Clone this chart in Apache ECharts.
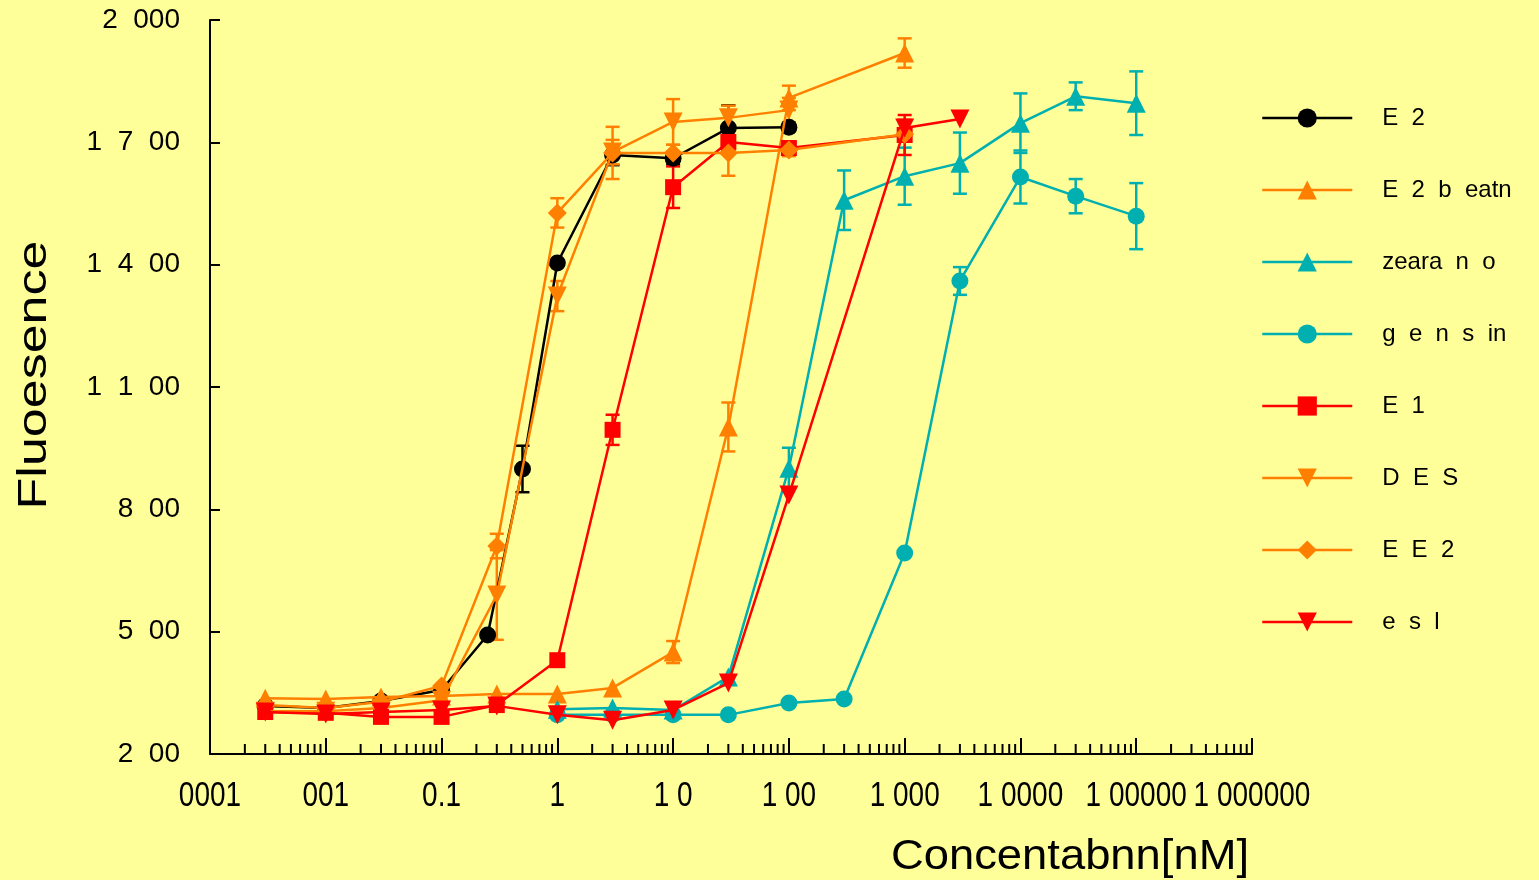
<!DOCTYPE html>
<html><head><meta charset="utf-8">
<script src="https://cdn.jsdelivr.net/npm/echarts@6/dist/echarts.min.js"></script>
<style>html,body{margin:0;padding:0;background:#FFFF99}#c{width:1539px;height:880px}</style>
</head><body><div id="c"></div>
<script>
// ---- tick labels ----
const xTickValues = [0.001, 0.01, 0.1, 1, 10, 100, 1000, 10000, 100000, 1000000];
const xTickLabels = ['0001', '001', '0.1', '1', '1 0', '1 00', '1 000', '1 0000', '1 00000', '1 000000'];
const yTickLabels = ['2  00', '5  00', '8  00', '1  1  00', '1  4  00', '1  7  00', '2  000'];
const legendNames = ['E  2', 'E  2  b  eatn', 'zeara  n  o', 'g  e  n  s  in', 'E  1', 'D  E  S', 'E  E  2', 'e  s  l'];
const yTitle = 'Fluoesence';
const xTitle = 'Concentabnn[nM]';

// ---- data (concentration nM, fluorescence, error) ----
const e2X   = [0.003, 0.01, 0.03, 0.1, 0.25, 0.5, 1, 3, 10, 30, 100];
const e2Y   = [318, 313, 330, 357, 492, 899, 1404, 1669, 1661, 1735, 1737];
const e2Err = [0, 0, 0, 0, 0, 57, 0, 25, 15, 56, 10];

const e2bX   = [0.003, 0.01, 0.03, 0.1, 0.3, 1, 3, 10, 30, 100, 1000];
const e2bY   = [337, 335, 340, 342, 347, 347, 362, 450, 1002, 1809, 1919];
const e2bErr = [0, 0, 0, 0, 0, 0, 0, 27, 60, 30, 36];

const zeaX   = [1, 3, 10, 30, 100, 300, 1000, 3000, 10000, 30000, 100000];
const zeaY   = [310, 313, 308, 389, 901, 1558, 1617, 1649, 1747, 1813, 1796];
const zeaErr = [0, 0, 0, 0, 50, 73, 70, 75, 73, 34, 78];

const genX   = [1, 3, 10, 30, 100, 300, 1000, 3000, 10000, 30000, 100000];
const genY   = [296, 296, 296, 296, 325, 335, 693, 1360, 1615, 1568, 1519];
const genErr = [0, 0, 0, 0, 0, 0, 0, 34, 65, 42, 81];

const e1X   = [0.003, 0.01, 0.03, 0.1, 0.3, 1, 3, 10, 30, 100, 1000];
const e1Y   = [303, 301, 291, 291, 320, 430, 995, 1590, 1701, 1686, 1718];
const e1Err = [0, 0, 0, 0, 0, 0, 37, 51, 15, 15, 49];

const desX   = [0.003, 0.01, 0.03, 0.1, 0.3, 1, 3, 10, 30, 100];
const desY   = [305, 305, 313, 332, 590, 1323, 1676, 1750, 1760, 1779];
const desErr = [0, 0, 0, 0, 110, 37, 30, 56, 30, 30];

const ee2X   = [0.003, 0.01, 0.03, 0.1, 0.3, 1, 3, 10, 30, 100, 1000];
const ee2Y   = [320, 313, 328, 367, 710, 1527, 1674, 1674, 1674, 1681, 1720];
const ee2Err = [0, 0, 0, 0, 30, 36, 64, 20, 56, 15, 15];

const estX   = [0.003, 0.01, 0.03, 0.1, 0.3, 1, 3, 10, 30, 100, 1000, 3000];
const estY   = [303, 298, 303, 308, 318, 296, 283, 308, 374, 835, 1735, 1757];
const estErr = [0, 0, 0, 0, 0, 0, 0, 0, 0, 0, 20, 0];

const defs = [
  {x: e2X,  y: e2Y,  err: e2Err,  color: '#000000', symbol: 'circle',   rot: 0,   size: 17},
  {x: e2bX, y: e2bY, err: e2bErr, color: '#FF8000', symbol: 'triangle', rot: 0,   size: 19},
  {x: zeaX, y: zeaY, err: zeaErr, color: '#00B0B0', symbol: 'triangle', rot: 0,   size: 19},
  {x: genX, y: genY, err: genErr, color: '#00B0B0', symbol: 'circle',   rot: 0,   size: 17},
  {x: e1X,  y: e1Y,  err: e1Err,  color: '#FF0000', symbol: 'rect',     rot: 0,   size: 16},
  {x: desX, y: desY, err: desErr, color: '#FF8000', symbol: 'triangle', rot: 180, size: 19},
  {x: ee2X, y: ee2Y, err: ee2Err, color: '#FF8000', symbol: 'diamond',  rot: 0,   size: 19},
  {x: estX, y: estY, err: estErr, color: '#FF0000', symbol: 'triangle', rot: 180, size: 19}
];

const minorMult = [2, 3, 4, 5, 6, 7, 8, 9];
const minorVals = [];
for (let d = -3; d <= 5; d++) minorMult.forEach(m => minorVals.push([m * Math.pow(10, d), 200]));

const series = [];
// minor ticks
series.push({
  type: 'custom', silent: true, z: 1, clip: false,
  data: minorVals,
  encode: {x: 0, y: 1},
  renderItem: (p, api) => {
    const c = api.coord([api.value(0), 200]);
    return {type: 'line', shape: {x1: c[0], y1: c[1], x2: c[0], y2: c[1] - 10},
            style: {stroke: '#000', lineWidth: 2}};
  }
});
// x tick labels (drawn at axis positions, allowed to overlap like the original)
series.push({
  type: 'custom', silent: true, z: 1, clip: false,
  data: xTickValues.map((v, i) => [v, 200, i]),
  encode: {x: 0, y: 1},
  renderItem: (p, api) => {
    const c = api.coord([api.value(0), 200]);
    return {type: 'text', x: c[0], y: c[1] + 42, scaleX: 0.8,
            style: {text: xTickLabels[api.value(2)], fontSize: 35, fontFamily: 'Liberation Sans',
                     fill: '#000', align: 'center', verticalAlign: 'middle'}};
  }
});
// error bars
defs.forEach((d, k) => {
  const col = d.color;
  series.push({
    type: 'custom', silent: true, z: 2, clip: false,
    data: d.x.map((v, i) => [v, d.y[i], d.err[i]]).filter(r => r[2] > 0),
    encode: {x: 0, y: 1},
    renderItem: (p, api) => {
      const xv = api.value(0), yv = api.value(1), e = api.value(2);
      const t = api.coord([xv, yv + e]), b = api.coord([xv, yv - e]);
      const w = 7, st = {stroke: col, lineWidth: 2.5};
      return {type: 'group', children: [
        {type: 'line', shape: {x1: t[0], y1: t[1], x2: b[0], y2: b[1]}, style: st},
        {type: 'line', shape: {x1: t[0] - w, y1: t[1], x2: t[0] + w, y2: t[1]}, style: st},
        {type: 'line', shape: {x1: b[0] - w, y1: b[1], x2: b[0] + w, y2: b[1]}, style: st}
      ]};
    }
  });
});
// curves
defs.forEach((d, k) => {
  series.push({
    type: 'line', name: legendNames[k], z: 3 + k,
    data: d.x.map((v, i) => [v, d.y[i]]),
    symbol: d.symbol, symbolSize: d.size, symbolRotate: d.rot,
    showAllSymbol: true,
    itemStyle: {color: d.color},
    lineStyle: {color: d.color, width: 2.5},
    animation: false
  });
});

const chart = echarts.init(document.getElementById('c'));
chart.setOption({
  backgroundColor: '#FFFF99',
  animation: false,
  grid: {left: 210, right: 287, top: 20, bottom: 126, containLabel: false},
  legend: {
    data: legendNames, orient: 'vertical', left: 1256, top: 101,
    itemWidth: 90, itemHeight: 24, itemGap: 48,
    lineStyle: {width: 2.5},
    textStyle: {fontSize: 24, fontFamily: 'Liberation Sans', color: '#000', padding: [0, 0, 0, 25]},
    selectedMode: false
  },
  xAxis: {
    type: 'log', logBase: 10, min: 0.001, max: 1000000,
    axisLine: {lineStyle: {color: '#000', width: 2}},
    axisTick: {inside: true, length: 16, lineStyle: {color: '#000', width: 2}},
    axisLabel: {show: false},
    splitLine: {show: false}, minorTick: {show: false}
  },
  yAxis: {
    type: 'value', min: 200, max: 2000, interval: 300,
    axisLine: {show: true, lineStyle: {color: '#000', width: 2}},
    axisTick: {show: true, inside: true, length: 10, lineStyle: {color: '#000', width: 2}},
    axisLabel: {
      formatter: v => yTickLabels[Math.round((v - 200) / 300)],
      fontSize: 28, fontFamily: 'Liberation Sans', color: '#000', margin: 30
    },
    splitLine: {show: false}
  },
  graphic: [
    {type: 'text', x: 35, y: 375, rotation: Math.PI / 2, scaleX: 1.3,
     style: {text: yTitle, fontSize: 40, fontFamily: 'Liberation Sans',
             fill: '#000', align: 'center', verticalAlign: 'middle'}},
    {type: 'text', x: 1070, y: 857, scaleX: 1.08,
     style: {text: xTitle, fontSize: 42, fontFamily: 'Liberation Sans', fill: '#000',
             align: 'center', verticalAlign: 'middle'}}
  ],
  series: series
});
</script>
</body></html>
